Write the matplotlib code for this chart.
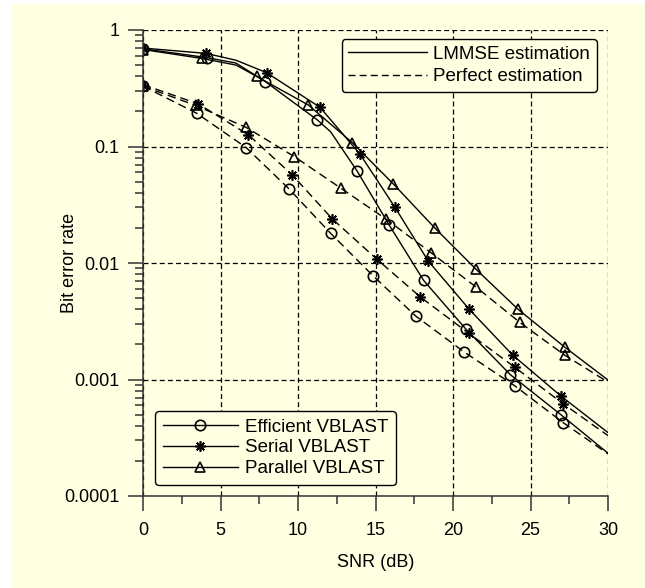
import numpy as np
import matplotlib
matplotlib.use("Agg")
import matplotlib.pyplot as plt
from matplotlib.patches import Rectangle
from matplotlib.lines import Line2D
from matplotlib.ticker import FixedLocator, FixedFormatter, LogLocator, MultipleLocator, NullFormatter

plt.rcParams['font.family'] = ['Liberation Sans', 'DejaVu Sans']

# ---- data ----
# LMMSE estimation (solid lines)
eff_lmmse_snr = [0, 4.1, 6.0, 7.9, 11.25, 12.1, 13.8, 15.9, 18.1, 20.84, 23.7, 26.95, 30]
eff_lmmse_ber = [0.69, 0.58, 0.52, 0.36, 0.169, 0.134, 0.062, 0.021, 0.0071, 0.0027, 0.0011, 0.0005, 0.000233]
eff_lmmse_marks = [0, 1, 3, 4, 6, 7, 8, 9, 10, 11]

ser_lmmse_snr = [0, 4.07, 6.0, 7.98, 11.42, 14.0, 16.26, 18.4, 21.05, 23.85, 26.97, 30]
ser_lmmse_ber = [0.70, 0.63, 0.55, 0.43, 0.217, 0.086, 0.030, 0.0104, 0.0040, 0.00162, 0.00072, 0.00035]
ser_lmmse_marks = [0, 1, 3, 4, 5, 6, 7, 8, 9, 10]

par_lmmse_snr = [0, 3.8, 6.0, 7.33, 10.67, 13.5, 16.15, 18.84, 21.5, 24.2, 27.2, 30]
par_lmmse_ber = [0.68, 0.57, 0.50, 0.40, 0.227, 0.108, 0.0477, 0.0199, 0.0088, 0.0040, 0.0019, 0.00099]
par_lmmse_marks = [0, 1, 3, 4, 5, 6, 7, 8, 9, 10]

# Perfect estimation (dashed lines)
eff_perf_snr = [0, 3.46, 6.65, 9.44, 12.1, 14.87, 17.6, 20.7, 24.0, 27.1, 30]
eff_perf_ber = [0.33, 0.193, 0.098, 0.043, 0.018, 0.0077, 0.0035, 0.00173, 0.00088, 0.000427, 0.00023]

ser_perf_snr = [0, 3.57, 6.8, 9.63, 12.2, 15.08, 17.9, 21.0, 24.0, 27.1, 30]
ser_perf_ber = [0.34, 0.232, 0.126, 0.057, 0.024, 0.0108, 0.0051, 0.0025, 0.00127, 0.00062, 0.00033]

par_perf_snr = [0, 3.4, 6.65, 9.76, 12.75, 15.7, 18.6, 21.5, 24.3, 27.2, 30]
par_perf_ber = [0.33, 0.225, 0.146, 0.082, 0.044, 0.0237, 0.0122, 0.0062, 0.0031, 0.00162, 0.00095]
perf_marks = list(range(10))

x_ticks = [0, 5, 10, 15, 20, 25, 30]
y_ticks = [0.0001, 0.001, 0.01, 0.1, 1]
y_tick_labels = ['0.0001', '0.001', '0.01', '0.1', '1']
method_names = ['Efficient VBLAST', 'Serial VBLAST', 'Parallel VBLAST']
estim_names = ['LMMSE estimation', 'Perfect estimation']

bg = '#FFFFE2'
star = (8, 2, 0)
dash = (0, (6, 3.5))

fig = plt.figure(figsize=(6.45, 5.88), dpi=100, facecolor='white')
fig.patches.append(Rectangle((12 / 645, 0), 1, 1 - 4 / 588, transform=fig.transFigure,
                             facecolor=bg, edgecolor='none', zorder=-10))
ax = fig.add_axes([143 / 645, 1 - 496 / 588, 465 / 645, 466 / 588])
ax.set_facecolor(bg)

mk = dict(color='black', lw=1.0, markersize=7.5, markeredgewidth=1.2, markerfacecolor='none')

ax.plot(eff_lmmse_snr, eff_lmmse_ber, marker='o', markevery=eff_lmmse_marks, **mk)
ax.plot(ser_lmmse_snr, ser_lmmse_ber, marker=star, markevery=ser_lmmse_marks, **mk)
ax.plot(par_lmmse_snr, par_lmmse_ber, marker='^', markevery=par_lmmse_marks, **mk)
ax.plot(eff_perf_snr, eff_perf_ber, marker='o', markevery=perf_marks, ls=dash, **mk)
ax.plot(ser_perf_snr, ser_perf_ber, marker=star, markevery=perf_marks, ls=dash, **mk)
ax.plot(par_perf_snr, par_perf_ber, marker='^', markevery=perf_marks, ls=dash, **mk)

ax.set_yscale('log')
ax.set_xlim(0, 30)
ax.set_ylim(0.0001, 1)

ax.xaxis.set_major_locator(FixedLocator(x_ticks))
ax.xaxis.set_minor_locator(MultipleLocator(2.5))
ax.yaxis.set_major_locator(FixedLocator(y_ticks))
ax.yaxis.set_major_formatter(FixedFormatter(y_tick_labels))
ax.yaxis.set_minor_locator(LogLocator(base=10, subs=np.arange(2, 10)))
ax.yaxis.set_minor_formatter(NullFormatter())

ax.tick_params(which='major', direction='out', length=10.8, width=1.1, color='#333333',
               labelsize=13, pad=6)
ax.tick_params(axis='x', which='major', pad=8)
ax.tick_params(which='minor', direction='out', length=5.8, width=1.1, color='#333333')

for s in ['top', 'right']:
    ax.spines[s].set_visible(False)
for s in ['left', 'bottom']:
    ax.spines[s].set_color('#333333')
    ax.spines[s].set_linewidth(1.1)

ax.grid(True, which='major', color='black', ls=(0, (4, 2.5)), lw=0.9)

ax.set_xlabel('SNR (dB)', fontsize=13)
ax.set_ylabel('Bit error rate', fontsize=13)
ax.xaxis.set_label_coords(0.5, -0.125)
ax.yaxis.set_label_coords(-0.14, 0.5)

# estimation legend
h1 = [Line2D([], [], color='black', lw=1.0),
      Line2D([], [], color='black', lw=1.0, ls=(0, (5, 3)))]
leg1 = ax.legend(h1, estim_names, loc='upper right', bbox_to_anchor=(0.976, 0.981),
                 borderaxespad=0, fontsize=13.5, handlelength=4.2, handletextpad=0.35,
                 labelspacing=0.3, borderpad=0.35, fancybox=True, framealpha=1,
                 facecolor=bg, edgecolor='black')
leg1.get_frame().set_linewidth(1.0)
ax.add_artist(leg1)

# method legend
h2 = [Line2D([], [], color='black', lw=1.0, marker=m, markersize=7.5,
             markeredgewidth=1.2, markerfacecolor='none') for m in ['o', star, '^']]
leg2 = ax.legend(h2, method_names, loc='lower left', bbox_to_anchor=(0.026, 0.024),
                 borderaxespad=0, fontsize=13.5, handlelength=4.0, handletextpad=0.4,
                 labelspacing=0.2, borderpad=0.4, numpoints=1, fancybox=True,
                 framealpha=1, facecolor=bg, edgecolor='black')
leg2.get_frame().set_linewidth(1.0)

fig.savefig('out.png', dpi=100, facecolor=fig.get_facecolor())
